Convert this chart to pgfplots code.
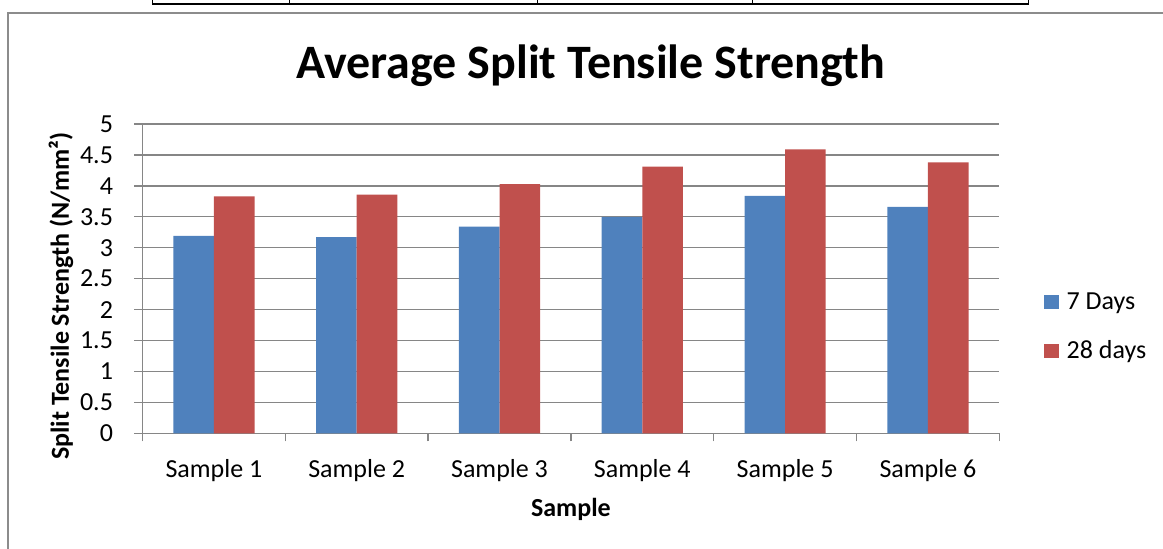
\documentclass[border=0pt]{standalone}
\usepackage{pgfplots}
\pgfplotsset{compat=1.18}
\usepackage{fontspec}
\setmainfont{Carlito}
\definecolor{barblue}{HTML}{4F81BD}
\definecolor{barred}{HTML}{C0504D}
\definecolor{gridgray}{HTML}{868686}
\definecolor{framegray}{HTML}{8C8C8C}
\begin{document}
\begin{tikzpicture}[x=1pt,y=1pt]
\useasboundingbox (0,0) rectangle (1163,549);
% fragment of the table above the chart
\draw[line width=1.2pt] (152,545) -- (1029,545);
\foreach \xx in {152,289,537,752.5,1028.6}
  \draw[line width=0.8pt] (\xx,545) -- (\xx,549);
% chart frame
\draw[framegray,line width=1.6pt] (8,-5) -- (8,536) -- (1170,536);
\begin{axis}[
  at={(142.5pt,115.7pt)}, anchor=south west,
  scale only axis, width=856.8pt, height=309.3pt,
  ybar=0pt, bar width=40.6pt,
  xmin=-0.5, xmax=5.5, ymin=0, ymax=5,
  axis lines*=left,
  axis line style={gridgray, line width=1.4pt},
  xtick={0,...,5},
  xticklabels={Sample 1,Sample 2,Sample 3,Sample 4,Sample 5,Sample 6},
  minor xtick={-0.5,0.5,...,5.5},
  ytick={0,0.5,...,5},
  tick align=outside,
  major tick length=8pt, minor tick length=8pt,
  x tick style={draw=none},
  minor x tick style={draw=gridgray, line width=1.4pt},
  y tick style={draw=gridgray, line width=1.4pt},
  ymajorgrids,
  major grid style={gridgray, line width=1.4pt},
  /pgf/number format/.cd, fixed, precision=1, assume math mode=true,
  /pgfplots/.cd,
  tick label style={font=\fontsize{26}{30}\selectfont},
  yticklabel style={anchor=east, xshift=-18pt},
  xticklabel style={anchor=base, yshift=-36pt},
  title={\fontsize{48}{56}\selectfont\bfseries Average Split Tensile Strength},
  title style={at={(axis description cs:0.5,1.0)}, anchor=base, yshift=39pt, xshift=20pt},
  xlabel={\fontsize{26}{30}\selectfont\bfseries Sample},
  xlabel style={at={(axis description cs:0.5,-0.245)}, anchor=center},
  ylabel={\fontsize{26}{30}\selectfont\bfseries Split Tensile Strength (N/mm²)},
  ylabel style={at={(axis description cs:-0.0951,0.444)}, anchor=center},
  legend style={at={(axis description cs:1.048,0.345)}, anchor=west,
    draw=none, fill=none, font=\fontsize{26}{30}\selectfont,
    row sep=26pt, cells={anchor=west}},
  legend image code/.code={\fill[#1] (0pt,-7pt) rectangle (15pt,7pt);},
]
\addplot[fill=barblue, draw=none] coordinates {
  (0,3.19) (1,3.17) (2,3.34) (3,3.50) (4,3.84) (5,3.66)};
\addplot[fill=barred, draw=none] coordinates {
  (0,3.83) (1,3.86) (2,4.03) (3,4.31) (4,4.59) (5,4.38)};
\legend{\hspace{6pt}7 Days, \hspace{6pt}28 days}
\end{axis}
\end{tikzpicture}
\end{document}
